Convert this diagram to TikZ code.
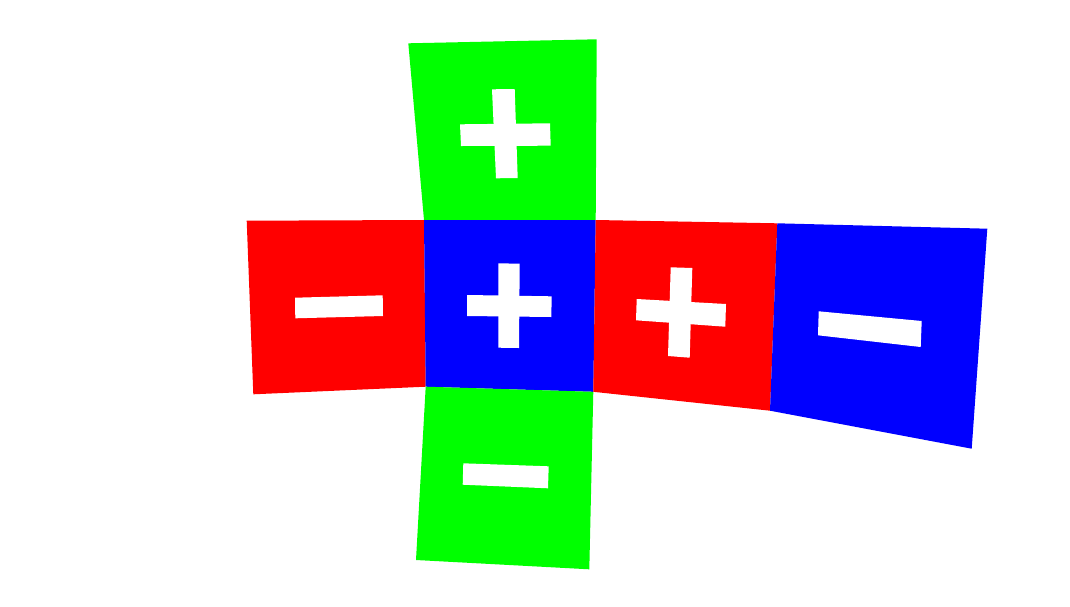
\documentclass[tikz,border=0pt]{standalone}
\usepackage{tikz}
\usetikzlibrary{calc}

\definecolor{facered}{RGB}{255,0,0}
\definecolor{facegreen}{RGB}{0,255,0}
\definecolor{faceblue}{RGB}{0,0,255}

\begin{document}
\begin{tikzpicture}[x=0.025cm,y=-0.025cm]
\useasboundingbox (0,0) rectangle (1070,606);
% corners of the faces
\coordinate (A1) at (408.3,43.3);
\coordinate (A2) at (596.7,39.3);
\coordinate (B0) at (246.7,220.7);
\coordinate (B1) at (424,220);
\coordinate (B2) at (595.7,220);
\coordinate (B3) at (777.3,223.3);
\coordinate (B4) at (987.3,228.7);
\coordinate (C0) at (253.3,394.3);
\coordinate (C1) at (425.7,386.7);
\coordinate (C2) at (593.3,391.8);
\coordinate (C3) at (770,410.7);
\coordinate (C4) at (971.7,448.7);
\coordinate (D1) at (416,560);
\coordinate (D2) at (589.3,569.3);
  \fill[facegreen] (A1) -- (A2) -- (B2) -- (B1) -- cycle;
  \fill[facered] (B0) -- (B1) -- (C1) -- (C0) -- cycle;
  \fill[faceblue] (B1) -- (B2) -- (C2) -- (C1) -- cycle;
  \fill[facered] (B2) -- (B3) -- (C3) -- (C2) -- cycle;
  \fill[faceblue] (B3) -- (B4) -- (C4) -- (C3) -- cycle;
  \fill[facegreen] (C1) -- (C2) -- (D2) -- (D1) -- cycle;

   % signs
   \fill[white] (460,124.3) -- (550,123.3) -- (550.7,145.7) -- (461,146) -- cycle;
   \fill[white] (492,89.3) -- (514.7,89) -- (517.7,178) -- (496,178.3) -- cycle;
   \fill[white] (295,297.7) -- (382.7,295.3) -- (383,316) -- (295.3,318.3) -- cycle;
   \fill[white] (467,295) -- (551.7,296.3) -- (551.3,317) -- (467,316) -- cycle;
   \fill[white] (498.3,263.3) -- (519.7,263.7) -- (519,348) -- (498.3,347.7) -- cycle;
   \fill[white] (636.7,299) -- (726,304) -- (725.3,326.7) -- (636,320.3) -- cycle;
   \fill[white] (670.7,267.3) -- (692.3,268) -- (689.7,357.7) -- (668,356) -- cycle;
   \fill[white] (818.7,311.3) -- (921.7,321) -- (920.7,347) -- (818,335.3) -- cycle;
   \fill[white] (463.3,463.3) -- (548.7,466.3) -- (548,488.3) -- (462.7,484.7) -- cycle;
\end{tikzpicture}
\end{document}
